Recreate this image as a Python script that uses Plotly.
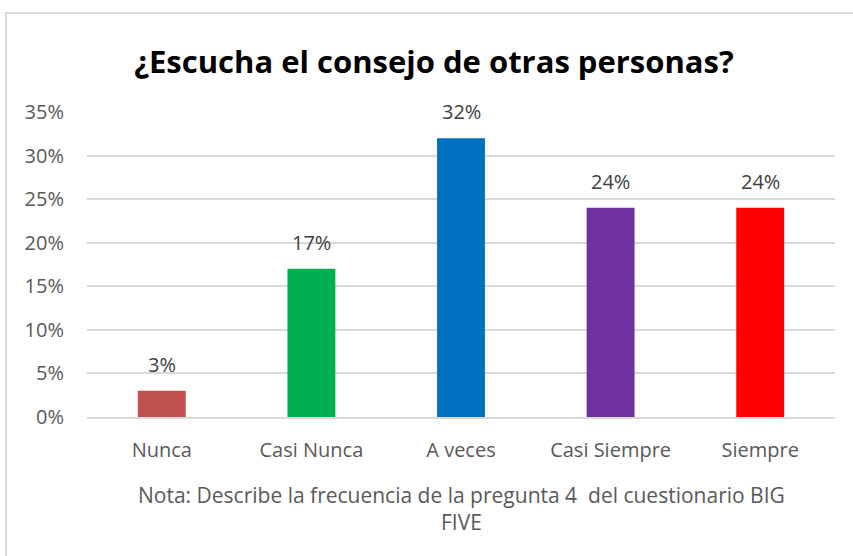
import plotly.graph_objects as go

categories = ["Nunca", "Casi Nunca", "A veces", "Casi Siempre", "Siempre"]
values = [0.03, 0.17, 0.32, 0.24, 0.24]
labels = ["3%", "17%", "32%", "24%", "24%"]
colors = ["#C0504D", "#00B050", "#0070C0", "#7030A0", "#FF0000"]
tick_vals = [0, 0.05, 0.10, 0.15, 0.20, 0.25, 0.30, 0.35]
tick_text = ["0%", "5%", "10%", "15%", "20%", "25%", "30%", "35%"]
title = "¿Escucha el consejo de otras personas?"
note = "Nota: Describe la frecuencia de la pregunta 4  del cuestionario BIG<br>FIVE"

FONT = "Open Sans"
W, H = 853, 556
L, R, T, B = 87, 18, 112, 139
PW, PH = W - L - R, H - T - B


def px_x(p):
    return (p - L) / PW


def px_y(p):
    return (H - B - p) / PH


fig = go.Figure(
    go.Bar(
        x=categories,
        y=values,
        marker=dict(color=colors, line=dict(width=0)),
        width=0.32,
        hoverinfo="x+y",
    )
)

annotations = [
    dict(
        x=c,
        y=v,
        xref="x",
        yref="y",
        text=t,
        showarrow=False,
        yanchor="bottom",
        yshift=11,
        font=dict(family=FONT, size=20, color="#404040"),
    )
    for c, v, t in zip(categories, values, labels)
]
annotations.append(
    dict(
        text=note,
        xref="paper",
        yref="paper",
        x=0.5,
        y=px_y(508),
        xanchor="center",
        yanchor="middle",
        showarrow=False,
        font=dict(family=FONT, size=21, color="#595959"),
        align="center",
    )
)

fig.update_layout(
    width=W,
    height=H,
    margin=dict(l=L, r=R, t=T, b=B),
    paper_bgcolor="white",
    plot_bgcolor="white",
    showlegend=False,
    font=dict(family=FONT, color="#595959"),
    title=dict(
        text="<b>" + title + "</b>",
        x=434 / W,
        xanchor="center",
        y=1 - 62 / H,
        yanchor="middle",
        font=dict(family=FONT, size=31, color="#000000"),
    ),
    xaxis=dict(
        showgrid=False,
        showline=True,
        linecolor="#D9D9D9",
        linewidth=1.5,
        ticks="",
        tickfont=dict(family=FONT, size=20, color="#595959"),
        ticklabelstandoff=14,
    ),
    yaxis=dict(
        range=[0, 0.35],
        tickvals=tick_vals,
        ticktext=tick_text,
        showgrid=True,
        gridcolor="#D9D9D9",
        gridwidth=1.5,
        zeroline=False,
        showline=False,
        ticks="",
        tickfont=dict(family=FONT, size=20, color="#595959"),
        ticklabelstandoff=22,
    ),
    shapes=[
        dict(
            type="rect",
            xref="paper",
            yref="paper",
            x0=px_x(6),
            x1=px_x(W + 10),
            y0=px_y(H + 10),
            y1=px_y(13),
            line=dict(color="#D9D9D9", width=2),
            fillcolor="rgba(0,0,0,0)",
            layer="below",
        )
    ],
    annotations=annotations,
)

fig.write_html(
    "out.html",
    config={"displayModeBar": False},
    post_script="document.body.style.margin='0px';",
)
